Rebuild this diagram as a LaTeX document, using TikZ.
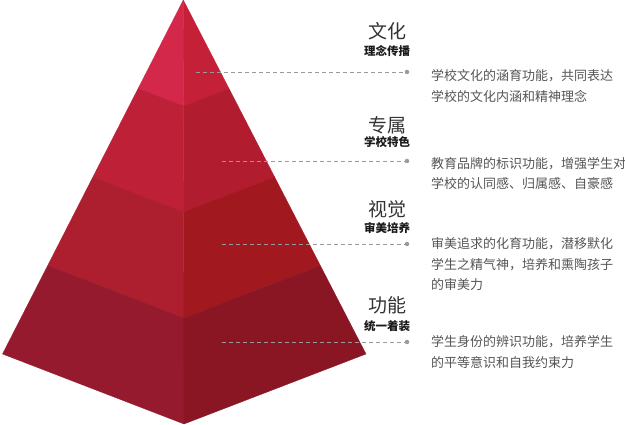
\documentclass[tikz,border=0pt]{standalone}
\usepackage{fontspec}
\newfontfamily\cjk{Noto Sans CJK SC}
\usetikzlibrary{calc}
\definecolor{l1}{HTML}{D3284A}
\definecolor{r1}{HTML}{C42139}
\definecolor{l2}{HTML}{BD2037}
\definecolor{r2}{HTML}{B11D2E}
\definecolor{l3}{HTML}{AD1E2E}
\definecolor{r3}{HTML}{A2181F}
\definecolor{l4}{HTML}{951A2E}
\definecolor{r4}{HTML}{8A1624}
\definecolor{titlec}{HTML}{333333}
\definecolor{subc}{HTML}{1A1A1A}
\definecolor{descc}{HTML}{555555}
\definecolor{dashc}{HTML}{9A9A9A}
\begin{document}
\begin{tikzpicture}[x=1pt,y=-1pt,
  face/.style={line width=0.3pt,line join=round},
  titlest/.style={anchor=base,inner sep=0pt,font=\cjk\fontsize{19}{19}\selectfont,text=titlec},
  subst/.style={anchor=base,inner sep=0pt,font=\cjk\bfseries\fontsize{11.5}{11.5}\selectfont,text=subc},
  descst/.style={anchor=base west,inner sep=0pt,font=\cjk\fontsize{13}{13}\selectfont,text=descc},
  dotst/.style={circle,fill=dashc,inner sep=0pt,minimum size=4.5pt},
  leader/.style={draw=dashc,line width=0.9pt,dash pattern=on 4pt off 3pt}]
\useasboundingbox (0,0) rectangle (625,425);
\coordinate (A) at (183.3,0);
\coordinate (L) at (2.5,354);
\coordinate (B) at (184,424);
\coordinate (R) at (366,354);
\foreach \i/\t in {1/0.25,2/0.5,3/0.75,4/1}{
  \coordinate (L\i) at ($(A)!\t!(L)$);
  \coordinate (C\i) at ($(A)!\t!(B)$);
  \coordinate (R\i) at ($(A)!\t!(R)$);
}
% top band
\filldraw[face,fill=l1,draw=l1] (A) -- (L1) -- (C1) -- cycle;
\filldraw[face,fill=r1,draw=r1] (A) -- (C1) -- (R1) -- cycle;
% bands 2-4
\foreach \i/\j in {1/2,2/3,3/4}{
  \filldraw[face,fill=l\j,draw=l\j] (L\i) -- (L\j) -- (C\j) -- (C\i) -- cycle;
  \filldraw[face,fill=r\j,draw=r\j] (C\i) -- (C\j) -- (R\j) -- (R\i) -- cycle;
}
% titles
\node[titlest] (t1) at (387,38.2) {文化};
\node[subst] (s1) at (387,55.4) {理念传播};
\node[titlest] (t2) at (387,132.2) {专属};
\node[subst] (s2) at (387,146.6) {学校特色};
\node[titlest] (t3) at (387,216.2) {视觉};
\node[subst] (s3) at (387,232.4) {审美培养};
\node[titlest] (t4) at (387,312.2) {功能};
\node[subst] (s4) at (387,330.4) {统一着装};
% leaders
\coordinate (p1) at (196,72);
\coordinate (p2) at (222,161);
\coordinate (p3) at (222,244);
\coordinate (p4) at (222,342);
\node[dotst] (dot1) at (407,72) {};
\node[dotst] (dot2) at (407,161) {};
\node[dotst] (dot3) at (407,244) {};
\node[dotst] (dot4) at (407,342) {};
\foreach \k in {1,2,3,4}{\draw[leader] (p\k) -- (dot\k);}
% descriptions
\node[descst] (d1a) at (431,81) {学校文化的涵育功能，共同表达};
\node[descst] (d1b) at (431,102) {学校的文化内涵和精神理念};
\node[descst] (d2a) at (431,169) {教育品牌的标识功能，增强学生对};
\node[descst] (d2b) at (431,189) {学校的认同感、归属感、自豪感};
\node[descst] (d3a) at (431,249) {审美追求的化育功能，潜移默化};
\node[descst] (d3b) at (431,269.5) {学生之精气神，培养和熏陶孩子};
\node[descst] (d3c) at (431,290) {的审美力};
\node[descst] (d4a) at (431,347) {学生身份的辨识功能，培养学生};
\node[descst] (d4b) at (431,367.5) {的平等意识和自我约束力};
\end{tikzpicture}
\end{document}
